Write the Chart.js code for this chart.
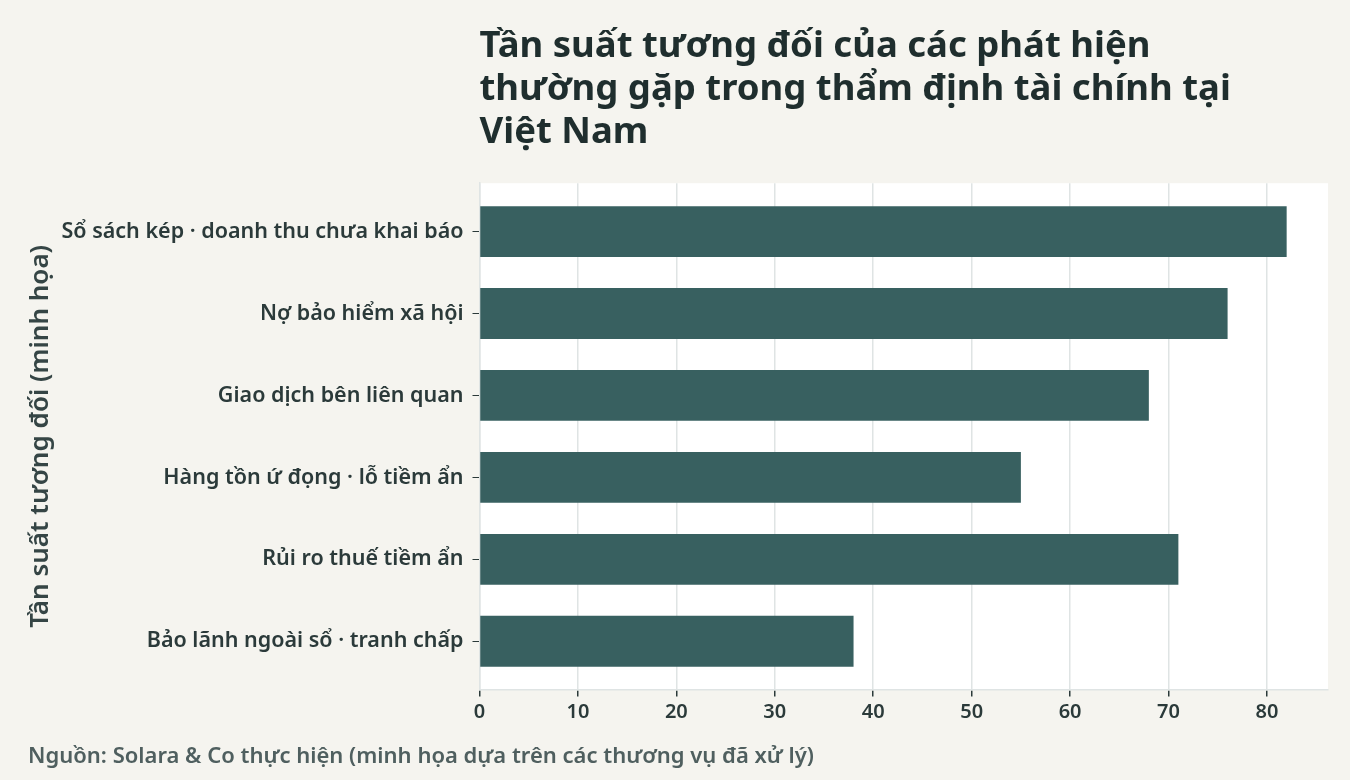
<!DOCTYPE html>
<html>
<head>
<meta charset="utf-8">
<script src="https://cdn.jsdelivr.net/npm/chart.js@4.4.1/dist/chart.umd.min.js"></script>
<style>
  html, body { margin: 0; padding: 0; background: #f5f4ef; }
  #wrap { width: 1350px; height: 780px; }
</style>
</head>
<body>
<div id="wrap"><canvas id="myChart"></canvas></div>
<script>
const categories = [
  'Sổ sách kép · doanh thu chưa khai báo',
  'Nợ bảo hiểm xã hội',
  'Giao dịch bên liên quan',
  'Hàng tồn ứ đọng · lỗ tiềm ẩn',
  'Rủi ro thuế tiềm ẩn',
  'Bảo lãnh ngoài sổ · tranh chấp'
];
const frequencies = [82, 76, 68, 55, 71, 38];
const xTicks = [0, 10, 20, 30, 40, 50, 60, 70, 80];

const FONT = "'Noto Sans', sans-serif";
const darkText = '#2b3a3a';
const gridColor = '#dfe4e4';

// paints the white panel behind the plot
const plotBg = {
  id: 'plotBg',
  beforeDraw(chart) {
    const { ctx, chartArea: a } = chart;
    ctx.save();
    ctx.fillStyle = '#ffffff';
    ctx.fillRect(a.left, a.top, a.right - a.left, a.bottom - a.top);
    ctx.restore();
  }
};

const ctx = document.getElementById('myChart').getContext('2d');
new Chart(ctx, {
  type: 'bar',
  data: {
    datasets: [{
      data: frequencies.map((v, i) => ({ x: v, y: i })),
      backgroundColor: '#386060',
      barPercentage: 0.62,
      categoryPercentage: 1
    }]
  },
  options: {
    indexAxis: 'y',
    responsive: true,
    maintainAspectRatio: false,
    animation: false,
    layout: { padding: { left: 28, right: 22, top: 25, bottom: 10 } },
    plugins: {
      legend: { display: false },
      tooltip: { enabled: false },
      title: {
        display: true,
        text: [
          'Tần suất tương đối của các phát hiện',
          'thường gặp trong thẩm định tài chính tại',
          'Việt Nam'
        ],
        align: 'start',
        fullSize: false,
        color: '#1f2e2e',
        font: { family: FONT, size: 36.5, weight: 'bold', lineHeight: 1.18 },
        padding: { top: 0, bottom: 29 }
      },
      subtitle: {
        display: true,
        position: 'bottom',
        text: 'Nguồn: Solara & Co thực hiện (minh họa dựa trên các thương vụ đã xử lý)',
        align: 'start',
        color: '#4f5f5f',
        font: { family: FONT, size: 22, weight: '600', lineHeight: 1.2 },
        padding: { top: 15, bottom: 0 }
      }
    },
    scales: {
      x: {
        type: 'linear',
        min: 0,
        max: 86.2,
        afterBuildTicks: (scale) => { scale.ticks = xTicks.map((v) => ({ value: v })); },
        grid: { color: gridColor, lineWidth: 1.5, tickColor: darkText, tickLength: 7 },
        border: { color: gridColor, width: 1.5 },
        ticks: { color: darkText, font: { family: FONT, size: 20, weight: '600' }, padding: 4 }
      },
      y: {
        type: 'linear',
        reverse: true,
        offset: false,
        min: -0.59,
        max: 5.59,
        afterBuildTicks: (scale) => { scale.ticks = categories.map((c, i) => ({ value: i })); },
        afterFit: (scale) => { scale.width = 451.5; },
        grid: { offset: false, drawOnChartArea: false, tickColor: darkText, tickLength: 7 },
        border: { color: gridColor, width: 1.5 },
        ticks: {
          color: darkText,
          font: { family: FONT, size: 21.5, weight: '600' },
          padding: 9,
          callback: (v) => categories[v]
        },
        title: {
          display: true,
          text: 'Tần suất tương đối (minh họa)',
          color: '#354545',
          font: { family: FONT, size: 26, weight: '600', lineHeight: 1 },
          padding: { top: 0, bottom: 0 }
        }
      }
    }
  },
  plugins: [plotBg]
});
</script>
</body>
</html>
